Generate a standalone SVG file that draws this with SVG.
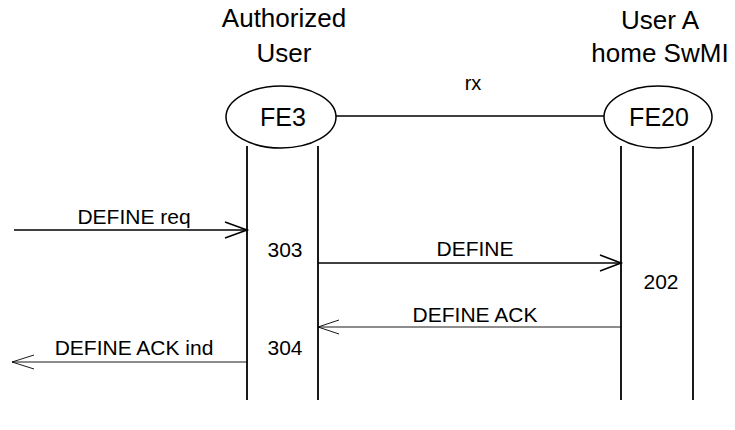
<svg xmlns="http://www.w3.org/2000/svg" width="735" height="430" viewBox="0 0 735 430">
<style>
text{font-family:"Liberation Sans",Arial,sans-serif;fill:#000;text-anchor:middle}
.t{font-size:26px}
.fe{font-size:25px}
.l{font-size:21px}
.n{font-size:21px}
.life{stroke:#000;stroke-width:1.8;fill:none}
.thick{stroke:#000;stroke-width:1.6;fill:none}
.thin{stroke:#000;stroke-width:0.9;fill:none}
</style>
<rect width="735" height="430" fill="#fff"/>
<g id="fe3">
<text class="t" x="284" y="27">Authorized</text>
<text class="t" x="284" y="62">User</text>
<ellipse cx="281" cy="117" rx="55" ry="31" fill="#fff" stroke="#000" stroke-width="1.5"/>
<text class="fe" x="283" y="126">FE3</text>
<line class="life" x1="247" y1="146" x2="247" y2="400"/>
<line class="life" x1="318" y1="146" x2="318" y2="400"/>
<text class="n" x="285" y="257">303</text>
<text class="n" x="285" y="355">304</text>
</g>
<g id="fe20">
<text class="t" x="660" y="29">User A</text>
<text class="t" x="660" y="62">home SwMI</text>
<ellipse cx="658" cy="117" rx="54" ry="31" fill="#fff" stroke="#000" stroke-width="1.5"/>
<text class="fe" x="659" y="126">FE20</text>
<line class="life" x1="621" y1="146" x2="621" y2="400"/>
<line class="life" x1="693" y1="146" x2="693" y2="400"/>
<text class="n" x="661" y="289">202</text>
</g>
<g id="connectors">
<line class="thick" x1="336" y1="116" x2="604" y2="116"/>
<text class="l" x="473" y="90" style="font-size:20px">rx</text>
<line class="thick" x1="14" y1="230" x2="247" y2="230"/>
<polyline class="thick" points="225,222 247,230 225,238"/>
<text class="l" x="134" y="224">DEFINE req</text>
<line class="thick" x1="318" y1="263" x2="621" y2="263"/>
<polyline class="thick" points="600,255 621,263 600,271"/>
<text class="l" x="475" y="256">DEFINE</text>
<line class="thin" x1="621" y1="327" x2="318" y2="327"/>
<polyline class="thin" points="339,320 318,327 339,334"/>
<text class="l" x="475" y="322">DEFINE ACK</text>
<line class="thin" x1="247" y1="362" x2="12" y2="362"/>
<polyline class="thin" points="34,355 12,362 34,369"/>
<text class="l" x="134" y="355">DEFINE ACK ind</text>
</g>
</svg>
